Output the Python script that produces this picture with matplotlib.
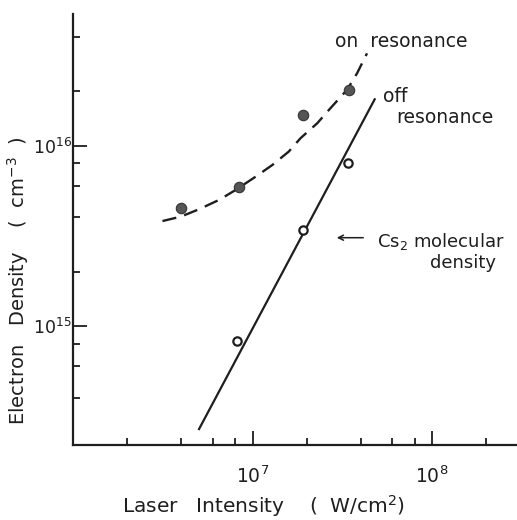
import matplotlib
matplotlib.use("Agg")
import matplotlib.pyplot as plt
from matplotlib.ticker import LogLocator, NullFormatter, FixedLocator, FixedFormatter

plt.rcParams['font.family'] = ['DejaVu Sans']

# ---- data ----
on_x = [4.0e6, 8.4e6, 1.92e7, 3.46e7]
on_y = [4.5e15, 5.9e15, 1.48e16, 2.04e16]

off_x = [8.15e6, 1.9e7, 3.41e7]
off_y = [8.3e14, 3.41e15, 8.0e15]

fit_x = [5.0e6, 4.82e7]
fit_y = [2.65e14, 1.83e16]

curve_x = [3.15e6, 3.98e6, 5.03e6, 6.5e6, 8.05e6, 1.04e7, 1.29e7, 1.59e7,
           1.85e7, 2.29e7, 2.71e7, 3.36e7, 3.82e7, 4.34e7]
curve_y = [3.82e15, 4.04e15, 4.44e15, 5.0e15, 5.68e15, 6.73e15, 7.82e15,
           9.27e15, 1.1e16, 1.33e16, 1.61e16, 2.04e16, 2.52e16, 3.25e16]

x_major = [1e7, 1e8]
x_major_labels = ["$10^{7}$", "$10^{8}$"]
y_major = [1e15, 1e16]
y_major_labels = ["$10^{15}$", "$10^{16}$"]

W, H = 517, 520
fig = plt.figure(figsize=(W / 100, H / 100), dpi=100)
ax = fig.add_axes([73 / W, 75 / H, (W - 73) / W, (445 - 14) / H])
ax.set_xscale('log')
ax.set_yscale('log')
ax.set_xlim(1.0e6, 2.97e8)
ax.set_ylim(2.19e14, 5.37e16)

ink = '#1e1e1e'
ax.plot(fit_x, fit_y, color=ink, lw=1.6, solid_capstyle='butt')
ax.plot(curve_x, curve_y, color=ink, lw=1.7, dashes=(6, 3.5))
ax.plot(on_x, on_y, 'o', ms=7.5, mfc='#555555', mec='#333333', mew=0.8, zorder=5)
ax.plot(off_x, off_y, 'o', ms=6, mfc='white', mec=ink, mew=1.6, zorder=5)

for s in ['top', 'right']:
    ax.spines[s].set_visible(False)
for s in ['left', 'bottom']:
    ax.spines[s].set_linewidth(1.6)
    ax.spines[s].set_color(ink)

ax.xaxis.set_major_locator(FixedLocator(x_major))
ax.xaxis.set_major_formatter(FixedFormatter(x_major_labels))
ax.yaxis.set_major_locator(FixedLocator(y_major))
ax.yaxis.set_major_formatter(FixedFormatter(y_major_labels))
ax.xaxis.set_minor_locator(LogLocator(base=10, subs=(2, 4, 6, 8)))
ax.yaxis.set_minor_locator(LogLocator(base=10, subs=(2, 4, 6, 8)))
ax.xaxis.set_minor_formatter(NullFormatter())
ax.yaxis.set_minor_formatter(NullFormatter())

ax.tick_params(which='major', direction='in', length=10, width=1.3, color=ink,
               labelcolor=ink)
ax.tick_params(which='minor', direction='in', length=5, width=1.3, color=ink)
ax.tick_params(axis='x', which='major', pad=15, labelsize=13.5)
ax.tick_params(axis='y', which='major', pad=1, labelsize=12.5)


def ftext(px, py, s, **kw):
    fig.text(px / W, 1 - py / H, s, color=ink, **kw)


ftext(263, 506, "Laser   Intensity    (  W/cm$^{2}$)", fontsize=14.5,
      ha='center', va='center')
ftext(18, 281, "Electron   Density    (  cm$^{-3}$  )", fontsize=14,
      ha='center', va='center', rotation=90)

ftext(335, 46.7, "on  resonance", fontsize=13.5, ha='left', va='baseline')
ftext(382.7, 101.7, "off", fontsize=13.5, ha='left', va='baseline')
ftext(396.7, 123.3, "resonance", fontsize=13.5, ha='left', va='baseline')
ftext(376.7, 246.7, "Cs$_{2}$ molecular", fontsize=13, ha='left', va='baseline')
ftext(430, 268.3, "density", fontsize=13, ha='left', va='baseline')

fig.add_artist(matplotlib.patches.FancyArrowPatch(
    (366 / W, 1 - 237.7 / H), (334 / W, 1 - 237.7 / H),
    transform=fig.transFigure, arrowstyle='->', mutation_scale=9,
    color=ink, lw=1.1))

fig.savefig("out.png", dpi=100)
